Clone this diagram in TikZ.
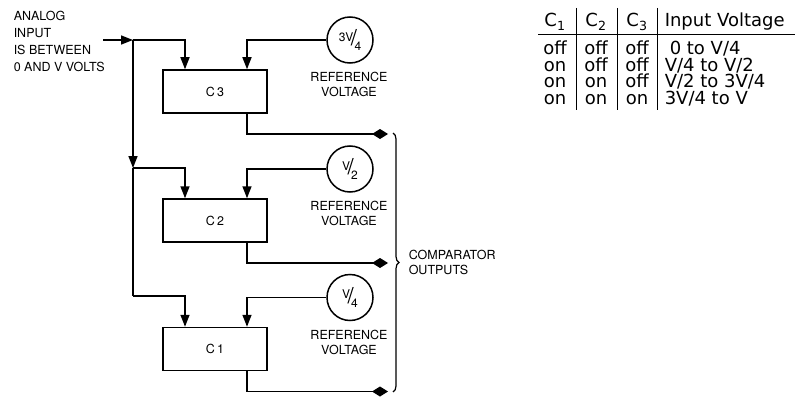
\documentclass[tikz,border=0pt]{standalone}
\usepackage{fontspec}
\setmainfont{TeX Gyre Heros}
\newfontfamily\tabfont{DejaVu Sans}
\usetikzlibrary{arrows.meta,decorations.pathreplacing}
\newcommand{\vfrac}[2]{\raisebox{4.5pt}{\fontsize{12}{12}\selectfont #1}\kern-2.5pt{\fontsize{22}{22}\selectfont /}\kern-2.5pt\raisebox{-4.5pt}{\fontsize{12}{12}\selectfont #2}}

\begin{document}
\begin{tikzpicture}[x=1pt, y=-1pt, line width=1.5pt,
    lbl/.style={font=\fontsize{12.5}{15}\selectfont, inner sep=0pt},
    comp/.style={draw, minimum width=104pt, minimum height=43pt, font=\fontsize{12.5}{15}\selectfont},
    refc/.style={draw, circle, minimum size=46pt, inner sep=0pt},
    arr/.style={-{Triangle[length=12pt,width=9pt]}},
    outl/.style={-{Diamond[length=16pt,width=10pt]}},
    tab/.style={font=\tabfont\fontsize{18}{18}\selectfont, anchor=base, inner sep=0pt}]
  \useasboundingbox (0,0) rectangle (800,396);
  \node[lbl, anchor=north west, align=left, font=\fontsize{12.5}{17}\selectfont] (ain) at (13,10)
    {ANALOG\\INPUT\\IS BETWEEN\\0 AND V VOLTS};
  % three comparators, each with its reference voltage
  \foreach \n/\y/\num/\den in {3/91.5/3V/4, 2/220.5/V/2, 1/349/V/4} {
    \node[comp] (c\n) at (215,\y) {C\,\n};
    \node[refc] (r\n) at (350,\y-51.5) {\vfrac{\num}{\den}};
    \node[lbl, align=center] (t\n) at (349,\y-7) {REFERENCE\\VOLTAGE};
    \draw[arr] (r\n.west) -| ([xshift=32]c\n.north);
    \coordinate (o\n) at (388,\y+42.5);
    \draw[outl] ([xshift=32]c\n.south) |- (o\n);
  }
  \coordinate (in) at (103,40);
  \coordinate (j3) at (133,40);
  \coordinate (j2) at (133,168);
  \coordinate (j1) at (133,296);
  \draw[arr] (in) -- (j3);
  \draw[arr] (j3) -| ([xshift=-30]c3.north);
  \draw[arr] (j3) -- (j2);
  \draw[arr] (j2) -| ([xshift=-30]c2.north);
  \draw (j2) -- (j1);
  \draw[arr] (j1) -| ([xshift=-30]c1.north);
  \coordinate (bt) at (393,133);
  \coordinate (bb) at (393,392);
  \draw[decorate, decoration={brace, amplitude=6pt}, line width=1.2pt] (bt) -- (bb);
  \node[lbl, anchor=west, align=left] (cmp) at (408,262) {COMPARATOR\\OUTPUTS};
  % truth table
  \node[tab] (h1) at (555,27) {C\textsubscript{1}};
  \node[tab] (h2) at (596,27) {C\textsubscript{2}};
  \node[tab] (h3) at (637,27) {C\textsubscript{3}};
  \node[tab, anchor=base west] (h4) at (664,27) {Input Voltage};
  \foreach \a/\b/\c/\v/\dx [count=\r] in {off/off/off/{0 to V/4}/5, on/off/off/{V/4 to V/2}/0,
      on/on/off/{V/2 to 3V/4}/0, on/on/on/{3V/4 to V}/0} {
    \node[tab] (a\r) at (555,38.5+16.5*\r) {\a};
    \node[tab] (b\r) at (596,38.5+16.5*\r) {\b};
    \node[tab] (d\r) at (637,38.5+16.5*\r) {\c};
    \node[tab, anchor=base west] (v\r) at (664+\dx,38.5+16.5*\r) {\v};
  }
  \draw[line width=1pt] (538,35) -- (795,35);
  \foreach \x in {576,617,657} \draw[line width=1pt] (\x,8) -- (\x,110);
\end{tikzpicture}
\end{document}
